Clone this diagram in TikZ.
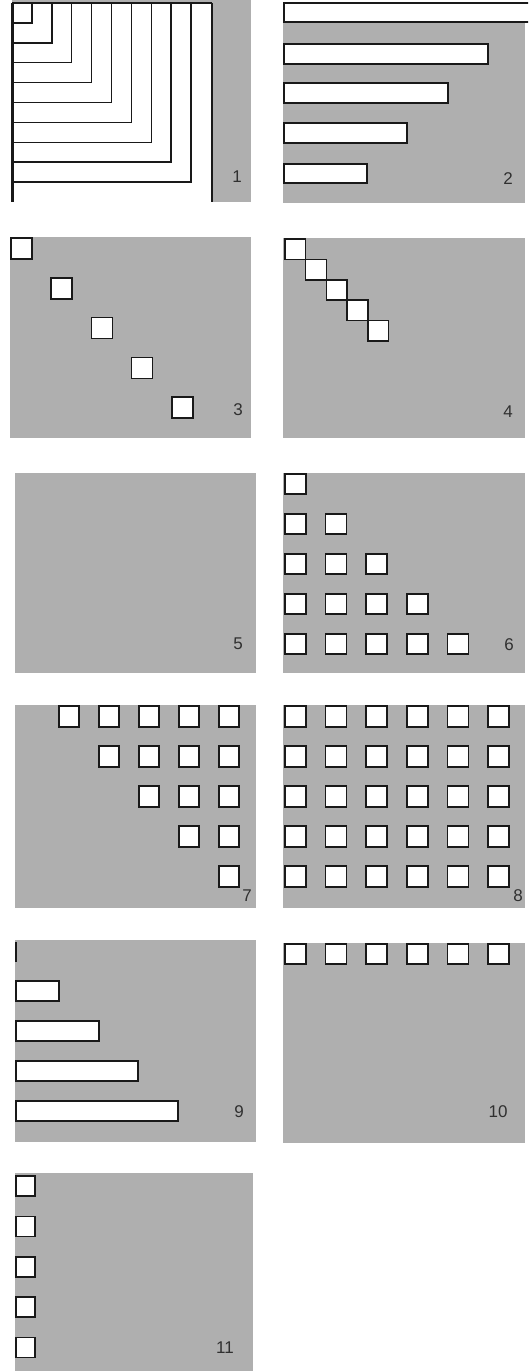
\documentclass[tikz,border=0pt]{standalone}
\usepackage{fontspec}
\setmainfont{Liberation Sans}
\definecolor{panelgray}{RGB}{175,175,175}
\definecolor{ink}{RGB}{25,25,25}
\begin{document}
\begin{tikzpicture}[x=1pt,y=-1pt,
  panel/.style={fill=panelgray,draw=none},
  cell/.style={fill=white,draw=ink,line width=1.5pt},
  edge/.style={draw=ink,line width=1.5pt},
  lbl/.style={text=ink!90,font=\fontsize{17}{17}\selectfont,inner sep=0pt,anchor=center}]
\clip (0,0) rectangle (528,1371);
\fill[white] (0,0) rectangle (528,1371);
% ---------- Panel 1
\fill[panelgray] (12,0) rectangle (251,202);
\fill[white] (12,3) rectangle (212,202);
\foreach \i in {1,...,9}{
  \draw[edge,line width=1.5pt] (12,{3+19.9*\i}) -| ({12+19.9*\i},3);
}
\draw[edge,line width=2.2pt] (12,3) -- (212,3);
\draw[edge,line width=3pt] (12,3) -- (12,202);
\draw[edge,line width=2.2pt] (212,3) -- (212,202);
\node[lbl] (l1) at (237,177) {1};
% ---------- Panel 2
\fill[panelgray] (283,3) rectangle (525,203);
\draw[cell] (284,3) rectangle (531,22);
\draw[cell] (284,44) rectangle (488,64);
\draw[cell] (284,83) rectangle (448,103);
\draw[cell] (284,123) rectangle (407,143);
\draw[cell] (284,164) rectangle (367,183);
\node[lbl] (l2) at (508,179) {2};
% ---------- Panel 3
\fill[panelgray] (10,237) rectangle (251,438);
\foreach \i in {0,...,4}{
  \draw[cell] ({11+40.2*\i},{238+39.8*\i}) rectangle +(21,21);
}
\node[lbl] (l3) at (238,410) {3};
% ---------- Panel 4
\fill[panelgray] (283,238) rectangle (525,438);
\foreach \i in {0,...,4}{
  \draw[cell] ({285+20.7*\i},{239+20.4*\i}) rectangle +(20.7,20.4);
}
\node[lbl] (l4) at (508,412) {4};
% ---------- Panel 5
\fill[panelgray] (15,473) rectangle (256,673);
\node[lbl] (l5) at (238,644) {5};
% ---------- Panel 6
\fill[panelgray] (283,473) rectangle (525,673);
\foreach \r in {0,...,4}{
  \foreach \c in {0,...,\r}{
    \draw[cell] ({285+40.6*\c},{474+40*\r}) rectangle +(21,20);
  }
}
\node[lbl] (l6) at (509,645) {6};
% ---------- Panel 7
\fill[panelgray] (15,705) rectangle (256,908);
\foreach \r in {0,...,4}{
  \foreach \c in {\r,...,4}{
    \draw[cell] ({59+40*\c},{706+40*\r}) rectangle +(20,21);
  }
}
\node[lbl] (l7) at (247,896) {7};
% ---------- Panel 8
\fill[panelgray] (283,705) rectangle (525,908);
\foreach \r in {0,...,4}{
  \foreach \c in {0,...,5}{
    \draw[cell] ({285+40.6*\c},{706+40*\r}) rectangle +(21,21);
  }
}
\node[lbl] (l8) at (518,896) {8};
% ---------- Panel 9
\fill[panelgray] (15,940) rectangle (256,1142);
\draw[edge,line width=2.4pt] (16,942) -- (16,962);
\draw[cell] (16,981) rectangle (59,1001);
\draw[cell] (16,1021) rectangle (99,1041);
\draw[cell] (16,1061) rectangle (138,1081);
\draw[cell] (16,1101) rectangle (178,1121);
\node[lbl] (l9) at (239,1112) {9};
% ---------- Panel 10
\fill[panelgray] (283,943) rectangle (525,1143);
\foreach \c in {0,...,5}{
  \draw[cell] ({285+40.6*\c},944) rectangle +(21,20);
}
\node[lbl] (l10) at (498,1112) {10};
% ---------- Panel 11
\fill[panelgray] (15,1173) rectangle (253,1371);
\foreach \r in {0,...,4}{
  \draw[cell] (16,{1176+40.4*\r}) rectangle +(19,20);
}
\node[lbl] (l11) at (225,1348) {11};
\end{tikzpicture}
\end{document}
